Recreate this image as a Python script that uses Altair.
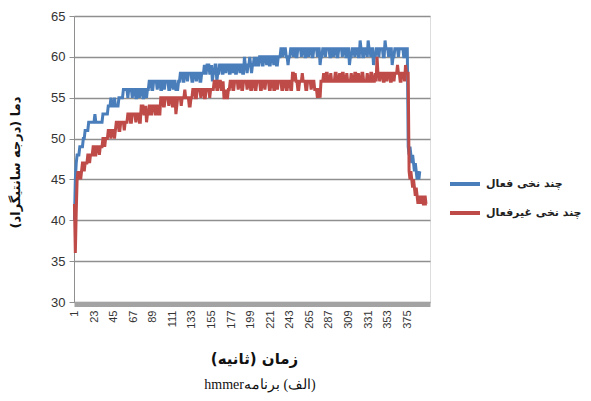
import altair as alt
import numpy as np
import pandas as pd

RLE = "\u202b"
PDF = "\u202c"


def rtl(s):
    return RLE + s + PDF


# legend names (Persian, right-to-left)
series_names = [rtl("چند نخی فعال"), rtl("چند نخی غیرفعال")]
series_colors = ["#4A7EBB", "#BE4B48"]

x_ticks = [1, 23, 45, 67, 89, 111, 133, 155, 177, 199, 221, 243, 265, 287, 309, 331, 353, 375]
y_ticks = [30, 35, 40, 45, 50, 55, 60, 65]

# temperature readings, as (value, number of consecutive seconds)
blue_runs = [
    (40, 1), (45, 1), (47, 1), (48, 3), (49, 4), (50, 2), (51, 4),
    (52, 7), (53, 1), (52, 8),
    (53, 6),
    (54, 3), (55, 1), (54, 3), (55, 1), (54, 4),
    (55, 5),
    (56, 5), (55, 1), (56, 4), (55, 1), (56, 3),
    (55, 2), (56, 2), (55, 1), (56, 3), (55, 2), (56, 2), (55, 1), (56, 2),
    (57, 3), (56, 2), (57, 4), (56, 1), (57, 3), (56, 2), (57, 2), (56, 1), (57, 4), (56, 2), (57, 3), (56, 1), (57, 2), (56, 2),
    (56, 1), (57, 2),
    (58, 3), (57, 2), (58, 3), (57, 1), (58, 4), (57, 2), (58, 3), (57, 1), (58, 3), (57, 2), (58, 3),
    (59, 1),
    (58, 2), (59, 3), (58, 2), (59, 1), (57, 1), (58, 2), (59, 2), (57, 1), (58, 2), (59, 3), (58, 2), (59, 2), (58, 1),
    (59, 3), (58, 2), (59, 2), (58, 1), (59, 2), (58, 2), (59, 3), (58, 1), (59, 2), (58, 2), (60, 1), (59, 2), (58, 1),
    (59, 2), (60, 1), (59, 1), (58, 1), (59, 2), (60, 1), (59, 2), (60, 1), (59, 2), (60, 1),
    (60, 2), (59, 2), (60, 3), (59, 1), (60, 2), (59, 2), (60, 3), (59, 1), (60, 2), (59, 2), (60, 3),
    (61, 2), (60, 1), (61, 3), (60, 2),
    (59, 1),
    (60, 2), (61, 3), (60, 1), (61, 2), (60, 2), (61, 4), (60, 1), (61, 3), (60, 2), (61, 2), (60, 1), (61, 3), (60, 2), (61, 4), (60, 1), (61, 2),
    (59, 1),
    (60, 2), (61, 3), (60, 1), (61, 4), (60, 2), (61, 2), (60, 1), (61, 3), (60, 2), (61, 4), (60, 1), (61, 3), (60, 2), (61, 2),
    (59, 1),
    (60, 2), (61, 3), (60, 1), (61, 3), (60, 2),
    (62, 1),
    (61, 2), (60, 2), (61, 3), (60, 1),
    (62, 1),
    (61, 2), (60, 1), (61, 2),
    (59, 1),
    (60, 2), (61, 3), (60, 1), (61, 4), (60, 2),
    (62, 1),
    (61, 3), (60, 1), (61, 3),
    (59, 1),
    (60, 2), (61, 4), (60, 1), (61, 5), (60, 2), (61, 3),
    (49, 1), (48, 1), (49, 1), (48, 1), (47, 1), (48, 1), (47, 1), (46, 1), (47, 1), (46, 1), (45, 1), (46, 1), (45, 1), (46, 1),
]

red_runs = [
    (42, 1), (36, 1), (41, 1), (45, 1),
    (46, 1), (45, 1), (46, 1), (45, 1), (46, 1),
    (47, 2), (46, 1), (47, 3),
    (48, 2), (47, 1), (48, 3),
    (49, 2), (48, 2), (49, 3), (48, 1), (49, 3),
    (50, 2), (49, 1), (50, 3),
    (51, 3), (50, 1), (51, 3), (50, 1), (51, 1),
    (52, 3), (51, 2), (52, 4), (51, 1), (52, 3),
    (53, 3), (52, 2), (53, 4), (52, 1), (53, 3), (52, 2),
    (54, 3), (53, 2), (54, 1), (52, 1), (53, 2), (54, 2), (53, 2),
    (54, 3), (53, 2), (54, 2), (53, 2),
    (55, 3), (54, 2), (55, 4), (54, 1), (55, 3), (54, 2),
    (55, 2), (53, 1), (54, 1), (55, 4), (54, 1), (55, 3), (56, 1), (55, 4), (54, 2), (55, 2),
    (56, 3), (55, 2), (56, 4), (55, 1), (56, 3), (55, 2), (56, 4), (55, 1), (56, 4),
    (57, 3), (56, 2), (57, 3), (56, 2), (57, 1), (55, 2), (56, 1), (55, 2), (56, 2), (57, 3), (56, 2), (57, 4),
    (56, 1), (57, 3), (56, 2), (57, 4), (56, 1), (57, 3), (56, 2), (57, 3), (56, 2), (57, 4),
    (56, 2), (57, 3), (56, 1), (57, 4), (56, 2), (57, 3), (56, 2), (57, 2), (56, 1), (57, 4), (56, 2), (57, 3), (56, 2), (57, 3), (56, 2),
    (58, 2), (57, 1), (58, 1),
    (57, 2), (56, 2), (57, 3),
    (58, 1),
    (57, 3), (56, 2), (57, 4), (56, 1), (57, 3), (56, 3),
    (55, 1), (56, 2), (55, 1),
    (57, 3), (58, 1), (57, 2), (58, 2), (57, 3), (58, 1), (57, 4), (58, 2), (57, 3), (58, 1), (57, 2), (58, 2), (57, 3),
    (58, 1), (57, 4), (58, 1), (57, 3), (58, 2), (57, 2), (58, 1), (57, 3), (58, 2), (57, 4), (58, 1), (57, 3), (58, 2),
    (57, 3), (58, 1), (57, 1),
    (60, 1),
    (58, 2), (57, 1), (58, 3), (57, 2), (58, 2), (57, 1), (58, 3), (57, 2), (58, 2), (57, 1), (58, 3), (59, 1), (58, 2),
    (57, 2), (58, 3), (57, 1), (59, 1), (58, 2),
    (58, 1),
    (46, 1), (45, 1), (46, 1), (45, 1), (44, 1), (45, 1), (44, 1), (43, 1), (44, 1), (43, 1), (42, 1), (43, 1), (42, 1),
    (43, 1), (42, 1), (43, 1), (42, 2), (43, 1), (42, 2),
]


def expand(runs, name):
    vals = np.repeat([v for v, n in runs], [n for v, n in runs])
    return pd.DataFrame({"t": np.arange(1, len(vals) + 1), "temp": vals, "series": name})


df_blue = expand(blue_runs, series_names[0])
df_red = expand(red_runs, series_names[1])

y_title = rtl("دما (درجه سانتیگراد)")
x_title = rtl("زمان (ثانیه)")
caption = rtl("(الف) برنامهhmmer")

W, H = 356, 286
GRID = "#8f8f8f"

x_enc = alt.X(
    "t:Q",
    scale=alt.Scale(domain=[0.5, 400.5], nice=False, zero=False),
    axis=alt.Axis(
        values=x_ticks, labelAngle=-90, labelFontSize=11, labelFont="Liberation Sans",
        labelColor="#333333", labelPadding=6, ticks=False, grid=False,
        domainColor="#a3a3a3", domainWidth=5, offset=2,
        title=x_title, titleFont="DejaVu Sans", titleFontSize=15, titleFontWeight="bold",
        titleColor="#111111", titleX=180, titleY=54, titleAlign="center", titleBaseline="middle",
        labelFlush=False, labelOverlap=False,
    ),
)
y_enc = alt.Y(
    "temp:Q",
    scale=alt.Scale(domain=[30, 65], nice=False, zero=False),
    axis=alt.Axis(
        values=y_ticks, labelFontSize=13, labelFont="Liberation Sans", labelColor="#333333",
        labelPadding=4, tickSize=5, tickColor=GRID, domainColor=GRID, domainWidth=1,
        grid=True, gridColor=GRID, gridWidth=1.3,
        title=y_title, titleFont="DejaVu Sans", titleFontSize=13, titleFontWeight="bold",
        titleColor="#111111", titleX=-59, titleY=146, titleAngle=-90, titleAlign="center",
        titleBaseline="middle",
    ),
)
color_enc = alt.Color(
    "series:N",
    scale=alt.Scale(domain=series_names, range=series_colors),
    legend=alt.Legend(
        title=None, orient="none", legendX=374, legendY=151, symbolType="stroke",
        symbolSize=900, symbolStrokeWidth=4, labelFont="DejaVu Sans", labelFontSize=11,
        labelFontWeight="bold", labelColor="#222222", labelOffset=4, rowPadding=4, padding=0,
        labelLimit=200,
    ),
)

blue = alt.Chart(df_blue).mark_line(strokeWidth=3).encode(x=x_enc, y=y_enc, color=color_enc)
red = alt.Chart(df_red).mark_line(strokeWidth=3).encode(x=x_enc, y=y_enc, color=color_enc)

cap = alt.Chart(pd.DataFrame({"c": [caption]})).mark_text(
    font="Liberation Serif", fontSize=14, color="#111111", align="center", baseline="middle"
).encode(text="c:N", x=alt.value(186), y=alt.value(369))

chart = alt.layer(blue, red, cap).properties(
    width=W, height=H,
    autosize=alt.AutoSizeParams(type="none"),
    padding={"left": 66, "top": 8, "right": 153, "bottom": 91},
).configure_view(stroke=None).configure(background="white")

chart.save("out.html", embed_options={"renderer": "svg", "actions": False})
